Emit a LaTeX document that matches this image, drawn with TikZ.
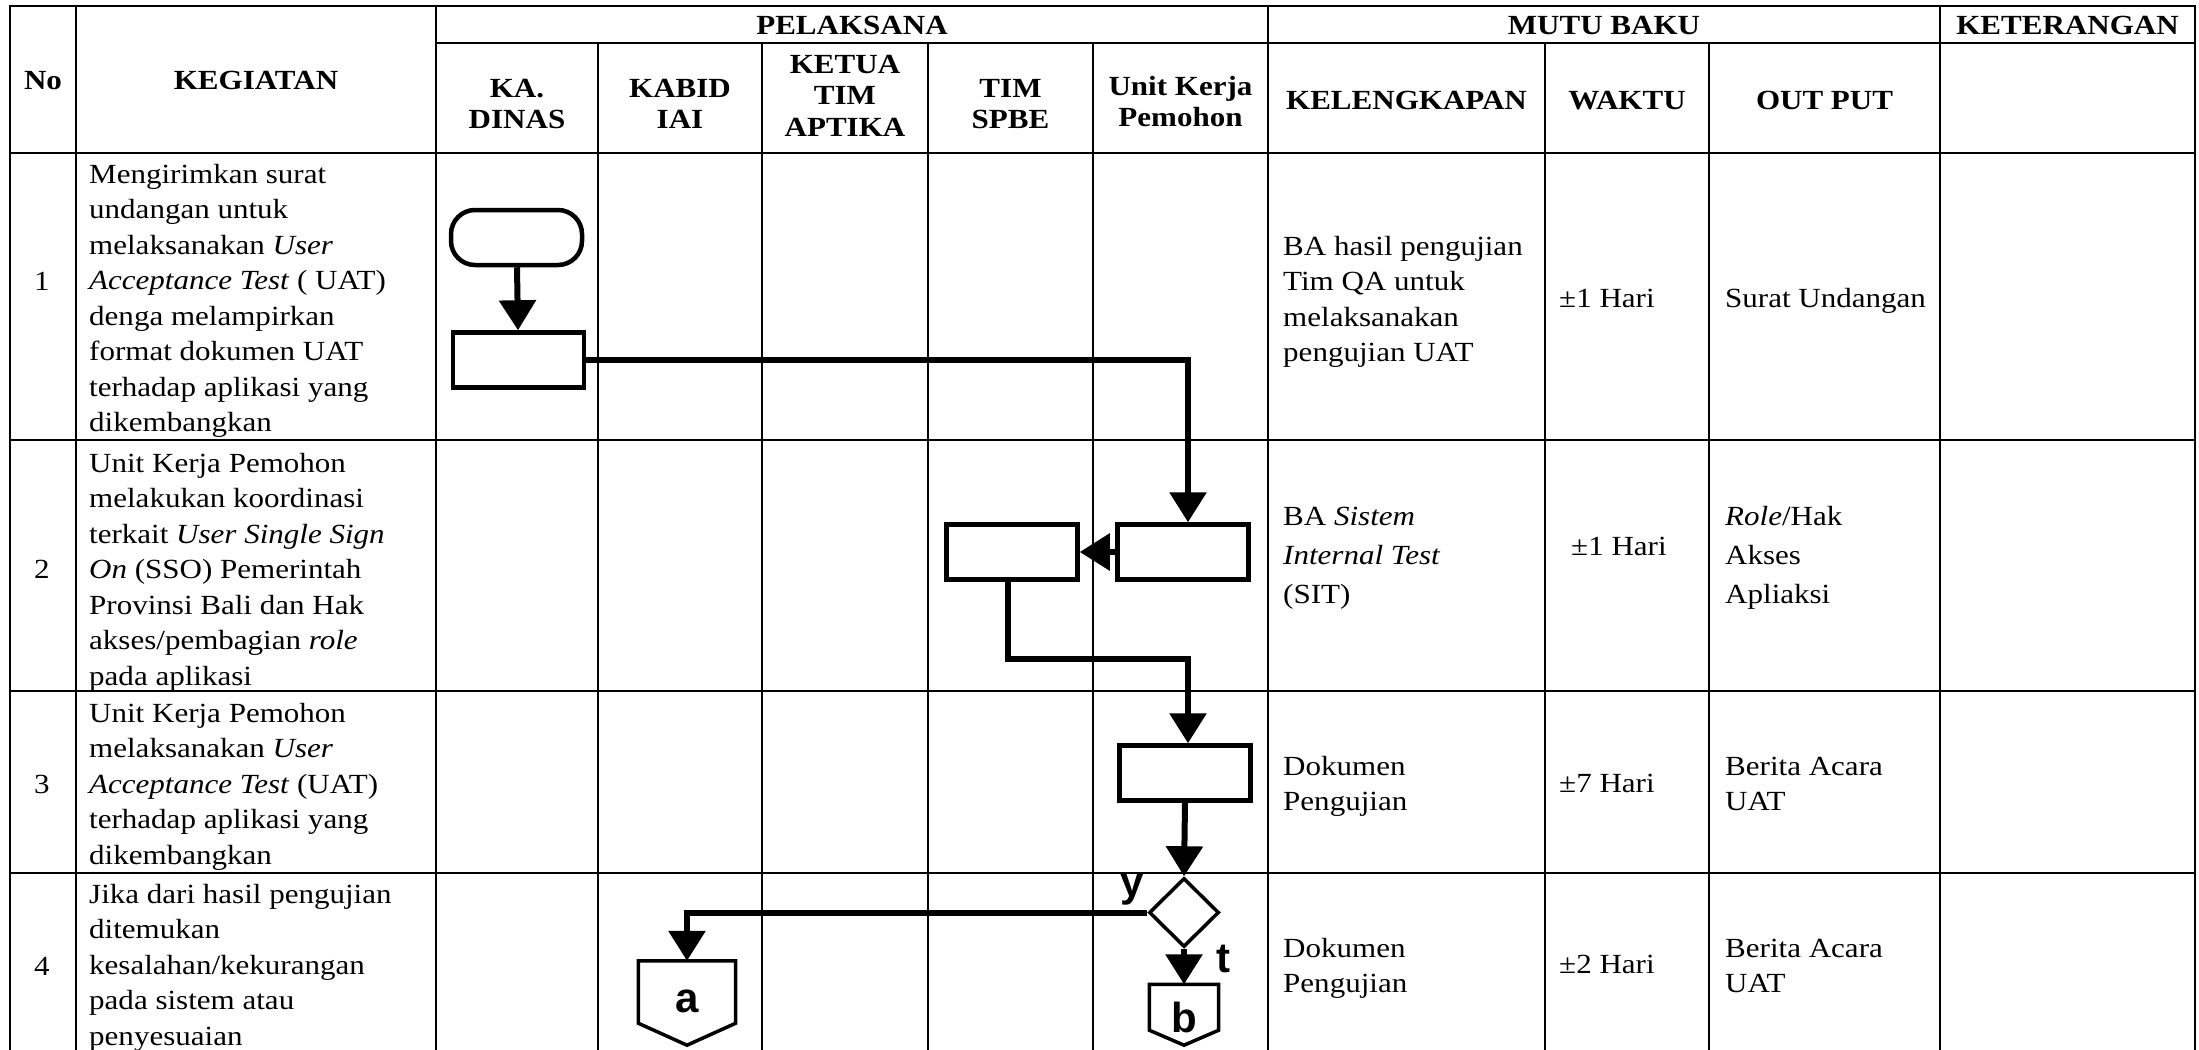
\documentclass[tikz,border=0pt]{standalone}
\usepackage{fontspec}
\setmainfont[FakeStretch=1.12]{Liberation Serif}
\newfontfamily\lblfont{Liberation Sans}
\usetikzlibrary{arrows.meta,shapes.geometric}
\newcommand\bodyfs{\fontsize{27.7}{35.5}\selectfont}
\newcommand\widefs{\fontsize{27.7}{39}\selectfont}
\newcommand\headfs{\fontsize{27.7}{31.5}\selectfont\bfseries}
\newcommand\lblfs{\lblfont\bfseries\fontsize{42}{42}\selectfont}
\begin{document}
\begin{tikzpicture}[x=1pt,y=-1pt,
  gridv/.style={line width=2pt,line cap=rect},
  gridh/.style={line width=2.8pt,line cap=rect},
  txt/.style={inner sep=0pt,anchor=north west,align=left,font=\bodyfs,yshift=24.85pt},
  txtw/.style={inner sep=0pt,anchor=north west,align=left,font=\widefs,yshift=27.3pt},
  hd/.style={inner sep=0pt,anchor=north,align=center,font=\headfs,yshift=22.05pt},
  nocell/.style={inner sep=0pt,anchor=base,font=\bodyfs},
  term/.style={draw,line width=4.5pt,rounded corners=24pt,minimum width=131pt,minimum height=55pt,inner sep=0pt},
  procbox/.style={draw,line width=4.5pt,minimum width=131pt,minimum height=55pt,inner sep=0pt},
  decis/.style={draw,diamond,line width=3.5pt,minimum width=70pt,minimum height=69pt,inner sep=0pt},
  offp/.style={line width=3.5pt,line join=miter},
  conn/.style={line width=6pt,-{Triangle[width=36pt,length=30pt]}},
  lbl/.style={inner sep=0pt,anchor=base,font=\lblfs}]
\useasboundingbox (0,0) rectangle (2199,1049);
% ---------- table grid ----------
\foreach \xx in {10,76,436,1268,1940,2195} \draw[gridv] (\xx,6) -- (\xx,1049);
\foreach \xx in {598,762,928,1093,1545,1709} \draw[gridv] (\xx,43) -- (\xx,1049);
\draw[gridh] (10,6) -- (2195,6);
\draw[gridh] (436,43) -- (2195,43);
\foreach \yy in {153,440,691,873} \draw[gridh] (10,\yy) -- (2195,\yy);
% ---------- header ----------
\node[hd] (hPel) at (852,34) {\strut PELAKSANA};
\node[hd] (hMutu) at (1604,34) {\strut MUTU BAKU};
\node[hd] (hKet) at (2067.5,34) {\strut KETERANGAN};
\node[hd] (hNo) at (43,89) {\strut No};
\node[hd] (hKeg) at (256,89) {\strut KEGIATAN};
\node[hd] (hKa) at (517,97) {\strut KA.\\DINAS};
\node[hd] (hKabid) at (680,97) {\strut KABID\\IAI};
\node[hd] (hKetua) at (845,73) {\strut KETUA\\TIM\\APTIKA};
\node[hd] (hTim) at (1010.5,97) {\strut TIM\\SPBE};
\node[hd] (hUnit) at (1180.5,95) {\strut Unit Kerja\\Pemohon};
\node[hd] (hKel) at (1406.5,109) {\strut KELENGKAPAN};
\node[hd] (hWak) at (1627,109) {\strut WAKTU};
\node[hd] (hOut) at (1824.5,109) {\strut OUT PUT};
% ---------- numbers ----------
\node[nocell] (n1) at (42,290.5) {1};
\node[nocell] (n2) at (42,578) {2};
\node[nocell] (n3) at (42,793) {3};
\node[nocell] (n4) at (42,975) {4};
% ---------- kegiatan ----------
\node[txt] (k1) at (89,183) {\strut Mengirimkan surat\\undangan untuk\\melaksanakan \textit{User}\\\textit{Acceptance Test} ( UAT)\\denga melampirkan\\format dokumen UAT\\terhadap aplikasi yang\\dikembangkan};
\node[txt] (k2) at (89,472) {\strut Unit Kerja Pemohon\\melakukan koordinasi\\terkait \textit{User Single Sign}\\\textit{On} (SSO) Pemerintah\\Provinsi Bali dan Hak\\akses/pembagian \textit{role}\\pada aplikasi};
\node[txt] (k3) at (89,722) {\strut Unit Kerja Pemohon\\melaksanakan \textit{User}\\\textit{Acceptance Test} (UAT)\\terhadap aplikasi yang\\dikembangkan};
\node[txt] (k4) at (89,903) {\strut Jika dari hasil pengujian\\ditemukan\\kesalahan/kekurangan\\pada sistem atau\\penyesuaian};
% ---------- mutu baku ----------
\node[txt] (m1a) at (1283,255) {\strut BA hasil pengujian\\Tim QA untuk\\melaksanakan\\pengujian UAT};
\node[txt] (m1b) at (1559,307) {\strut ±1 Hari};
\node[txt] (m1c) at (1725,307) {\strut Surat Undangan};
\node[txtw] (m2a) at (1283,525) {\strut BA \textit{Sistem}\\\textit{Internal Test}\\(SIT)};
\node[txt] (m2b) at (1571,555) {\strut ±1 Hari};
\node[txtw] (m2c) at (1725,525) {\strut \textit{Role}/Hak\\Akses\\Apliaksi};
\node[txt] (m3a) at (1283,775) {\strut Dokumen\\Pengujian};
\node[txt] (m3b) at (1559,792) {\strut ±7 Hari};
\node[txt] (m3c) at (1725,775) {\strut Berita Acara\\UAT};
\node[txt] (m4a) at (1283,957) {\strut Dokumen\\Pengujian};
\node[txt] (m4b) at (1559,973) {\strut ±2 Hari};
\node[txt] (m4c) at (1725,957) {\strut Berita Acara\\UAT};
% ---------- flowchart ----------
\node[term] (st) at (516.5,237.5) {};
\node[procbox] (r1) at (518.5,360) {};
\node[procbox] (r2) at (1183,552) {};
\node[procbox] (r3) at (1012,552) {};
\node[procbox] (r4) at (1185,773) {};
\node[decis] (dia) at (1184,912.5) {};
\node[inner sep=0pt,minimum width=97pt,minimum height=62pt] (ca) at (687,992) {};
\node[inner sep=0pt,minimum width=69pt,minimum height=45.5pt] (cb) at (1184,1007.25) {};
\draw[offp] (ca.north west) -- (ca.north east) -- (ca.south east) -- ([yshift=-22pt]ca.south) -- (ca.south west) -- cycle;
\draw[offp] (cb.north west) -- (cb.north east) -- (cb.south east) -- ([yshift=-15pt]cb.south) -- (cb.south west) -- cycle;
\node[lbl] (la) at (687,1012) {a};
\node[lbl] (lb) at (1184,1032) {b};
\node[lbl] (ly) at (1132,896) {y};
\node[lbl] (lt) at (1223,972) {t};
\draw[conn] (st) -- (r1);
\draw[conn] (r1.east) -| ([xshift=5pt]r2.north);
\draw[conn] (r2.west) -- (r3.east);
\draw[conn] ([xshift=-4pt]r3.south) -- ++(0,77) -| ([xshift=3pt]r4.north);
\draw[conn] (r4.south) -- (dia.north);
\draw[conn] (dia.west) -| (ca.north);
\draw[conn] (dia.south) -- (cb.north);
\end{tikzpicture}
\end{document}
